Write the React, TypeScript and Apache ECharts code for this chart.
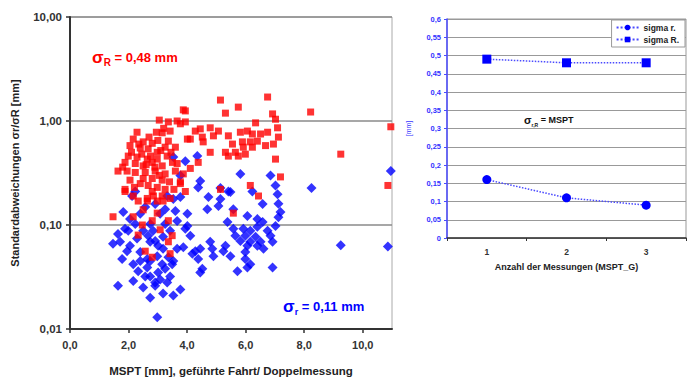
import React, { useEffect, useRef } from 'react';
import * as echarts from 'echarts';

// sigma R (red squares) – MSPT [mm] vs standard deviation [mm]
const sigmaRPoints: [number, number][] = [
  [3.87, 1.28], [3.05, 1.02], [3.36, 0.98], [3.66, 1.0], [3.77, 0.94], [2.29, 0.78], [2.95, 0.78], [3.15, 0.77],
  [3.42, 0.8], [4.01, 0.67], [2.16, 0.67], [2.5, 0.63], [2.81, 0.61], [3.36, 0.64], [2.05, 0.58], [2.4, 0.55],
  [2.67, 0.54], [2.98, 0.5], [3.25, 0.56], [3.6, 0.56], [1.99, 0.46], [2.29, 0.45], [2.64, 0.43], [2.98, 0.43],
  [3.32, 0.46], [1.88, 0.4], [2.23, 0.39], [2.5, 0.37], [2.81, 0.4], [3.15, 0.37], [3.66, 0.39], [1.64, 0.33],
  [1.95, 0.33], [2.23, 0.32], [2.57, 0.32], [2.91, 0.33], [3.25, 0.31], [3.6, 0.33], [3.87, 0.31], [2.5, 0.28],
  [2.81, 0.28], [3.15, 0.27], [3.77, 0.26], [2.67, 0.24], [2.98, 0.23], [1.88, 0.22], [3.25, 0.22], [2.81, 0.21],
  [3.15, 0.19], [2.64, 0.18], [2.98, 0.17], [3.42, 0.18],
  [1.47, 0.12], [2.16, 0.12], [2.5, 0.14], [2.98, 0.13], [2.33, 0.17], [2.64, 0.17], [3.18, 0.17], [2.47, 0.1],
  [2.81, 0.11], [3.36, 0.11], [2.33, 0.08], [3.08, 0.09], [3.49, 0.079], [3.36, 0.069], [2.57, 0.056], [2.81, 0.049],
  [3.42, 0.053], [1.88, 0.21], [2.16, 0.19], [3.77, 0.25], [3.94, 0.21],
  [2.1, 0.5], [2.45, 0.48], [2.75, 0.46], [3.1, 0.52], [3.45, 0.5], [2.35, 0.6], [2.7, 0.7], [3.0, 0.65],
  [3.2, 0.85], [2.6, 0.38], [2.9, 0.36], [3.5, 0.4], [2.05, 0.27], [2.4, 0.25], [3.05, 0.3], [3.4, 0.26],
  [1.8, 0.36], [2.2, 0.23], [3.55, 0.22], [2.85, 0.19],
  [5.14, 1.59], [5.75, 1.36], [5.31, 1.19], [6.75, 1.7], [6.92, 1.17], [7.02, 1.04], [6.34, 0.96], [7.09, 0.86],
  [3.94, 1.25], [3.94, 0.98], [4.45, 0.84], [4.28, 0.8], [4.79, 0.86], [5.07, 0.8], [4.11, 0.67], [4.52, 0.7],
  [4.9, 0.72], [5.41, 0.72], [5.82, 0.78], [6.06, 0.8], [6.23, 0.75], [6.51, 0.75], [6.75, 0.78], [7.12, 0.7],
  [4.55, 0.63], [5.55, 0.6], [5.89, 0.63], [6.16, 0.63], [6.4, 0.64], [6.95, 0.6], [5.92, 0.56], [6.23, 0.56],
  [6.68, 0.58], [4.79, 0.5], [5.31, 0.5], [5.65, 0.5], [5.99, 0.48], [5.75, 0.46], [5.41, 0.46], [7.02, 0.43],
  [4.38, 0.4], [4.11, 0.35], [7.19, 0.29], [5.14, 0.22], [6.16, 0.24], [6.44, 0.19], [5.58, 0.13],
  [8.22, 1.22], [9.25, 0.48], [10.96, 0.88], [10.86, 0.24],
];

// sigma r (blue diamonds)
const sigmaSmallRPoints: [number, number][] = [
  [3.53, 0.45], [3.94, 0.41], [3.77, 0.3], [2.23, 0.21], [2.12, 0.19], [3.32, 0.19], [3.77, 0.186], [3.53, 0.178],
  [1.82, 0.133], [2.05, 0.114], [1.99, 0.088], [3.66, 0.109], [1.47, 0.066], [1.71, 0.069], [2.05, 0.063], [2.29, 0.074],
  [2.67, 0.079], [2.91, 0.07], [3.01, 0.063], [3.18, 0.077], [2.4, 0.055], [1.78, 0.047], [2.64, 0.047], [2.98, 0.05],
  [3.53, 0.045], [2.16, 0.042], [2.64, 0.039], [3.15, 0.042], [2.74, 0.032], [3.01, 0.035], [3.42, 0.032], [2.91, 0.028],
  [3.32, 0.028], [1.64, 0.026], [2.91, 0.026], [3.77, 0.024], [3.18, 0.022], [3.53, 0.021], [2.74, 0.02], [2.98, 0.013],
  [1.88, 0.092], [3.94, 0.092], [4.11, 0.079], [4.45, 0.059], [4.38, 0.047], [4.73, 0.186], [5.14, 0.178], [5.48, 0.208],
  [4.69, 0.142], [5.38, 0.107], [5.58, 0.092], [4.79, 0.069], [4.86, 0.059], [5.31, 0.063], [5.48, 0.05], [4.52, 0.038],
  [3.66, 0.059], [3.49, 0.042], [4.35, 0.46], [4.45, 0.265], [5.82, 0.31], [6.85, 0.3], [4.38, 0.23], [7.02, 0.24],
  [5.14, 0.227], [5.41, 0.21], [6.23, 0.21], [7.09, 0.198], [7.12, 0.16], [5.07, 0.152], [6.58, 0.159], [5.58, 0.142],
  [7.19, 0.133], [6.06, 0.122], [7.12, 0.119], [6.4, 0.114], [6.58, 0.107], [7.02, 0.098], [4.01, 0.098], [5.92, 0.092],
  [6.16, 0.088], [6.4, 0.096], [6.75, 0.088], [5.65, 0.079], [5.99, 0.079], [6.34, 0.077], [6.85, 0.079], [5.82, 0.07],
  [6.16, 0.069], [6.51, 0.069], [6.92, 0.069], [6.06, 0.063], [6.4, 0.063], [6.61, 0.059], [4.28, 0.056], [5.24, 0.056],
  [5.99, 0.055], [4.18, 0.053], [4.9, 0.05], [5.99, 0.047], [6.16, 0.042], [6.06, 0.039], [6.92, 0.039], [5.72, 0.036],
  [4.45, 0.035],
  [8.25, 0.227], [10.96, 0.33], [9.25, 0.064], [10.86, 0.062],
  [2.4, 0.128], [2.74, 0.102], [3.08, 0.128], [2.57, 0.149], [3.25, 0.102], [3.42, 0.088], [2.23, 0.102], [1.64, 0.082],
  [2.5, 0.088], [2.84, 0.088], [3.18, 0.059], [3.36, 0.049], [2.33, 0.036], [2.57, 0.032], [3.08, 0.03], [2.74, 0.045],
  [1.95, 0.056], [3.87, 0.061], [4.01, 0.128], [3.6, 0.136], [3.25, 0.038], [2.5, 0.025], [2.16, 0.029], [2.91, 0.159],
  [3.25, 0.142], [2.74, 0.069], [2.4, 0.045],
];

// right chart
const messungen = ['1', '2', '3'];
const sigmaSmallR = [0.16, 0.11, 0.09];
const sigmaLargeR = [0.49, 0.48, 0.48];
const legendNames = ['sigma r.', 'sigma R.'];

const FONT = '"Liberation Sans", Arial, sans-serif';
const de = (s: string) => s.replace('.', ',');

export default function App() {
  const ref = useRef<HTMLDivElement>(null);
  useEffect(() => {
    const chart = echarts.init(ref.current!, null, { renderer: 'svg' });
    chart.setOption({
      animation: false,
      backgroundColor: '#ffffff',
      textStyle: { fontFamily: FONT },
      grid: [
        { left: 70, top: 17, width: 322, height: 312, show: true, borderColor: '#aaa', borderWidth: 1, containLabel: false, outerBoundsMode: 'none' },
        { left: 447, top: 19, width: 239, height: 219, show: true, borderColor: '#999', borderWidth: 1, containLabel: false, outerBoundsMode: 'none' },
      ],
      xAxis: [
        {
          gridIndex: 0, type: 'value', min: 0, max: 11, interval: 2,
          name: 'MSPT [mm], geführte Fahrt/ Doppelmessung', nameLocation: 'middle', nameGap: 36,
          nameTextStyle: { fontWeight: 'bold', fontSize: 11.5, color: '#222', fontFamily: FONT },
          axisLine: { lineStyle: { color: '#333', width: 2 } },
          axisTick: { show: true, length: 4, lineStyle: { color: '#333', width: 1.5 } },
          axisLabel: {
            showMaxLabel: false, margin: 10, fontWeight: 'bold', fontSize: 11, color: '#333', fontFamily: FONT,
            formatter: (v: number) => de(v.toFixed(1)),
          },
          splitLine: { show: false },
        },
        {
          gridIndex: 1, type: 'category', data: messungen, boundaryGap: true,
          name: 'Anzahl der Messungen (MSPT_G)', nameLocation: 'middle', nameGap: 24,
          nameTextStyle: { fontWeight: 'bold', fontSize: 9, color: '#222', fontFamily: FONT },
          axisLine: { lineStyle: { color: '#333', width: 1.5 } },
          axisTick: { show: true, length: 3, lineStyle: { color: '#333' } },
          axisLabel: { margin: 9, fontWeight: 'bold', fontSize: 8.5, color: '#333', fontFamily: FONT },
          splitLine: { show: false },
        },
      ],
      yAxis: [
        {
          gridIndex: 0, type: 'log', logBase: 10, min: 0.01, max: 10,
          name: 'Standardabweichungen σr/σR [mm]', nameLocation: 'middle', nameGap: 50,
          nameTextStyle: { fontWeight: 'bold', fontSize: 11, color: '#222', fontFamily: FONT },
          axisLine: { show: true, lineStyle: { color: '#333', width: 2 } },
          axisTick: { show: true, length: 4, lineStyle: { color: '#333', width: 1.5 } },
          axisLabel: {
            margin: 8, fontWeight: 'bold', fontSize: 11.5, color: '#333', fontFamily: FONT,
            formatter: (v: number) => de(v.toFixed(2)),
          },
          splitLine: { show: true, lineStyle: { color: '#8a8a8a', width: 1.5 } },
        },
        {
          gridIndex: 1, type: 'value', min: 0, max: 0.6, interval: 0.05,
          name: '[mm]', nameLocation: 'middle', nameGap: 35,
          nameTextStyle: { fontSize: 7, color: '#3333ff', fontFamily: FONT },
          axisLine: { show: true, lineStyle: { color: '#4a4aff', width: 1.5 } },
          axisTick: { show: true, length: 3, lineStyle: { color: '#4a4aff' } },
          axisLabel: {
            margin: 6, fontWeight: 'bold', fontSize: 7.5, color: '#3333ff', fontFamily: FONT,
            formatter: (v: number) => de(String(Math.round(v * 100) / 100)),
          },
          splitLine: { show: true, lineStyle: { color: '#999', width: 1 } },
        },
      ],
      legend: {
        data: legendNames,
        orient: 'vertical',
        right: 8, top: 20,
        backgroundColor: '#fff', borderColor: '#999', borderWidth: 1,
        padding: [3, 6, 3, 4], itemGap: 3, itemWidth: 22, itemHeight: 7,
        textStyle: { fontSize: 8.5, fontWeight: 'bold', color: '#222', fontFamily: FONT },
      },
      graphic: [
        {
          type: 'text', x: 92, y: 57,
          style: {
            text: '{s|σ}{sub|R}{t| = 0,48 mm}', verticalAlign: 'middle', align: 'left',
            rich: {
              s: { fontSize: 17, fontWeight: 'bold', fill: '#ff0000', fontFamily: FONT, lineHeight: 20 },
              sub: { fontSize: 10, fontWeight: 'bold', fill: '#ff0000', fontFamily: FONT, verticalAlign: 'bottom' },
              t: { fontSize: 13, fontWeight: 'bold', fill: '#ff0000', fontFamily: FONT, lineHeight: 20 },
            },
          },
        },
        {
          type: 'text', x: 283, y: 306,
          style: {
            text: '{s|σ}{sub|r}{t| = 0,11 mm}', verticalAlign: 'middle', align: 'left',
            rich: {
              s: { fontSize: 17, fontWeight: 'bold', fill: '#0000ff', fontFamily: FONT, lineHeight: 20 },
              sub: { fontSize: 9, fontWeight: 'bold', fill: '#0000ff', fontFamily: FONT, verticalAlign: 'bottom' },
              t: { fontSize: 13, fontWeight: 'bold', fill: '#0000ff', fontFamily: FONT, lineHeight: 20 },
            },
          },
        },
        {
          type: 'text', x: 524, y: 120,
          style: {
            text: '{s|σ}{sub|r,R}{t| = MSPT}', verticalAlign: 'middle', align: 'left',
            rich: {
              s: { fontSize: 11, fontWeight: 'bold', fill: '#111', fontFamily: FONT, lineHeight: 14 },
              sub: { fontSize: 5, fontWeight: 'bold', fill: '#111', fontFamily: FONT, verticalAlign: 'bottom' },
              t: { fontSize: 9, fontWeight: 'bold', fill: '#111', fontFamily: FONT, lineHeight: 14 },
            },
          },
        },
      ],
      series: [
        {
          type: 'scatter', name: 'sigma r (Punkte)', xAxisIndex: 0, yAxisIndex: 0,
          symbol: 'diamond', symbolSize: 10, data: sigmaSmallRPoints,
          itemStyle: { color: '#0000ff' },
        },
        {
          type: 'scatter', name: 'sigma R (Punkte)', xAxisIndex: 0, yAxisIndex: 0,
          symbol: 'rect', symbolSize: 7, data: sigmaRPoints,
          itemStyle: { color: '#ff0000' },
        },
        {
          type: 'line', name: legendNames[0], xAxisIndex: 1, yAxisIndex: 1,
          data: sigmaSmallR, symbol: 'circle', symbolSize: 9,
          itemStyle: { color: '#0000ff' },
          lineStyle: { color: '#4a4aff', width: 1.5, type: 'dotted' },
        },
        {
          type: 'line', name: legendNames[1], xAxisIndex: 1, yAxisIndex: 1,
          data: sigmaLargeR, symbol: 'rect', symbolSize: 9,
          itemStyle: { color: '#0000ff' },
          lineStyle: { color: '#4a4aff', width: 1.5, type: 'dotted' },
        },
      ],
    });
    return () => chart.dispose();
  }, []);
  return <div ref={ref} style={{ position: 'absolute', left: 0, top: 0, width: 693, height: 377 }} />;
}
